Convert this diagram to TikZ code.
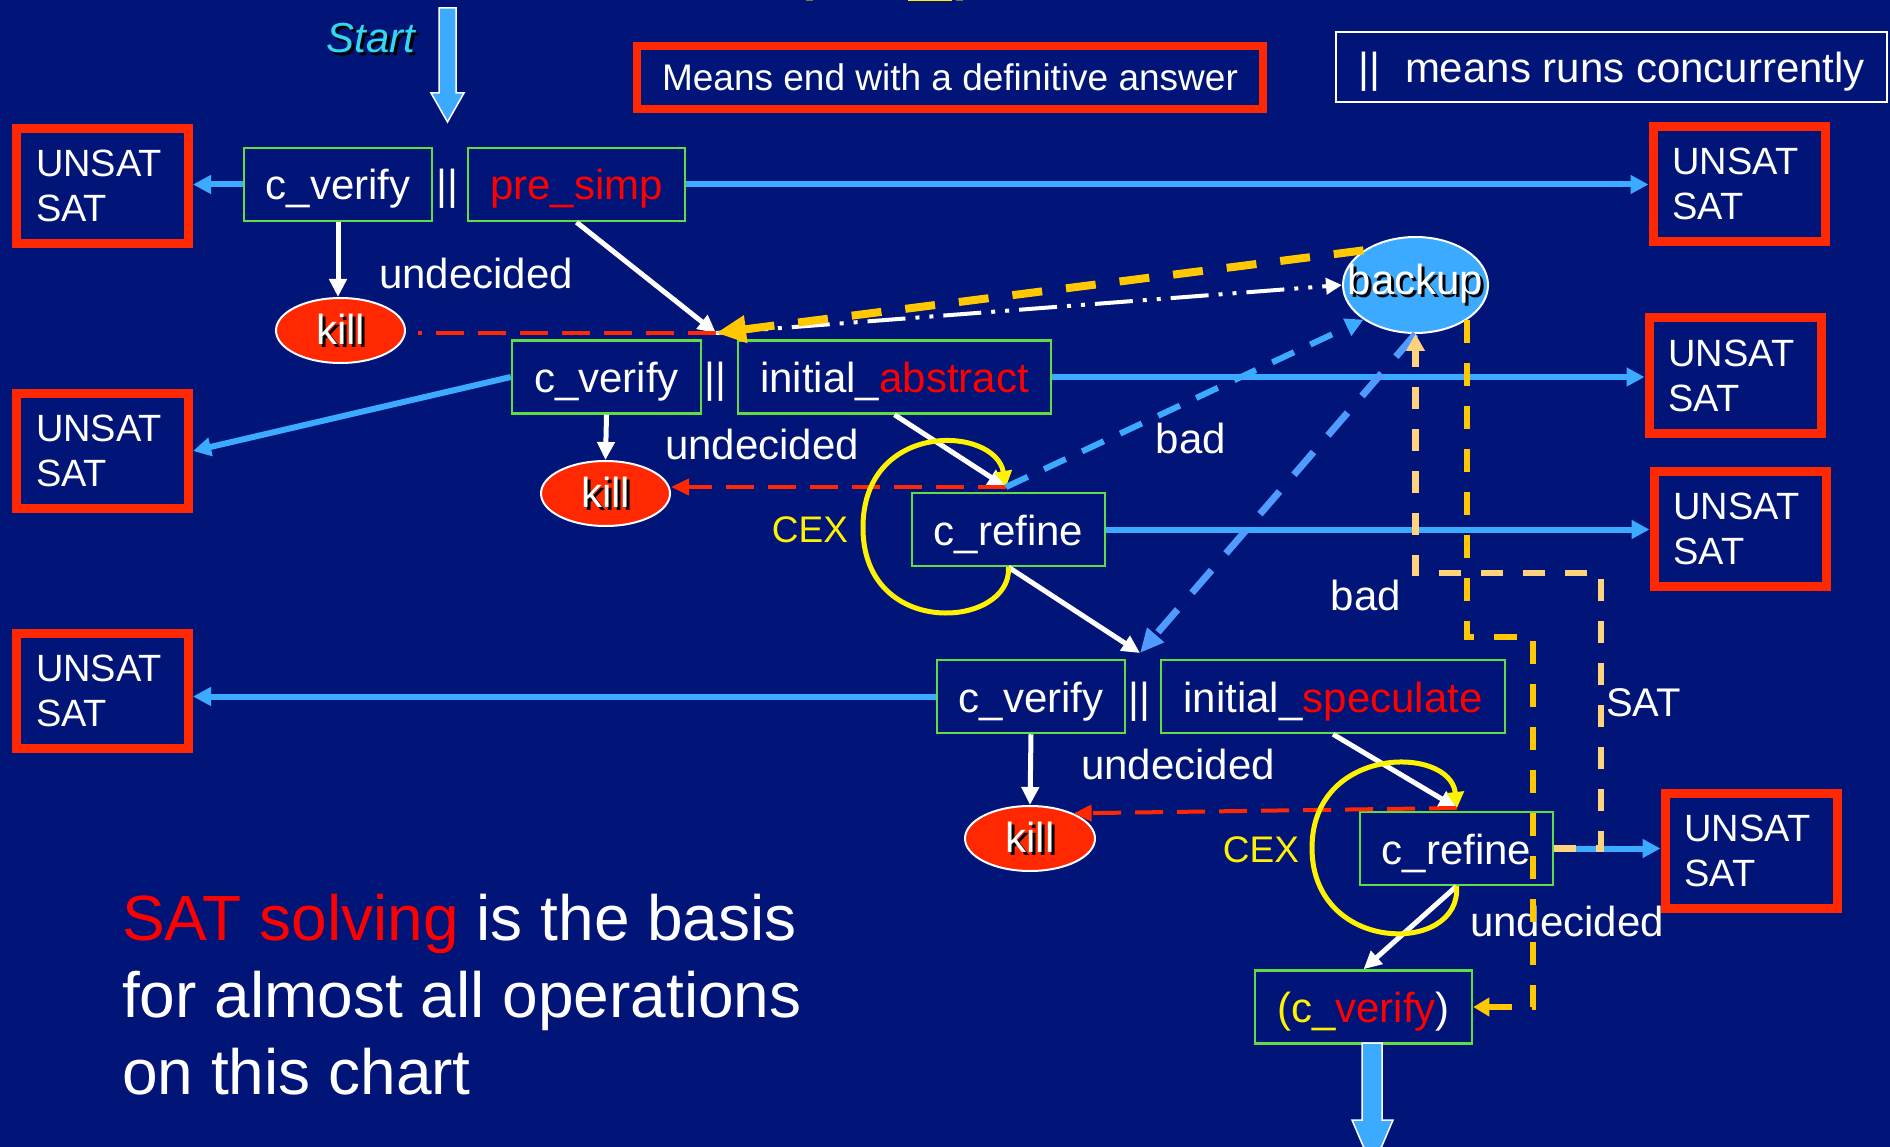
\documentclass[tikz,border=0pt]{standalone}
\usepackage{fontspec}
\setmainfont{Liberation Sans}
\usetikzlibrary{arrows.meta,shapes.geometric,calc}
\definecolor{bgblue}{RGB}{1,20,119}
\definecolor{resred}{RGB}{255,40,0}
\definecolor{boxgreen}{RGB}{95,220,70}
\definecolor{lblue}{RGB}{60,170,255}
\definecolor{pblue}{RGB}{80,155,255}
\definecolor{gold}{RGB}{255,200,0}
\definecolor{lorange}{RGB}{255,210,125}
\definecolor{cyantext}{RGB}{50,215,240}
\definecolor{olivemark}{RGB}{120,120,60}
\newcommand\fmain{\fontsize{42}{50}\selectfont}
\newcommand\fres{\fontsize{38}{45}\selectfont}
\newcommand\fsmall{\fontsize{37}{44}\selectfont}
\newcommand\fbig{\fontsize{64}{77}\selectfont}
\newcommand\shtxt[1]{\rlap{\kern3pt\raisebox{-3pt}{\color{black}#1}}#1}
\begin{document}
\begin{tikzpicture}[x=1pt,y=-1pt,
  proc/.style={draw=boxgreen,line width=2.5pt,inner sep=0pt,minimum height=73pt,text height=40pt,text depth=9pt,font=\fmain,text=white},
  res/.style={draw=resred,line width=9pt,inner xsep=0pt,inner ysep=0pt,minimum width=172pt,minimum height=115pt,text width=133pt,align=left,font=\fres,text=white},
  killnode/.style={ellipse,fill=resred,draw=white,line width=2pt,minimum width=129pt,minimum height=65pt,inner sep=0pt,font=\fmain,text=white},
  lbl/.style={inner sep=0pt,font=\fmain,text=white},
  barrow/.style={draw=lblue,line width=6pt,-{Triangle[length=18pt,width=18pt]}},
  warrow/.style={draw=white,line width=5pt,-{Triangle[length=18pt,width=17pt]}},
  rdash/.style={draw=resred,line width=4pt,dash pattern=on 28pt off 14pt},
  rtip/.style={-{Triangle[length=18pt,width=16pt]}},
  yloop/.style={draw=yellow,line width=5pt,-{Triangle[length=16pt,width=17pt]}},
  bdash/.style={draw=lblue,line width=6pt,dash pattern=on 24pt off 18pt,-{Triangle[length=18pt,width=18pt]}},
  bdashb/.style={draw=pblue,line width=7pt,dash pattern=on 30pt off 22pt,-{Triangle[length=24pt,width=21pt]}},
  wdd/.style={draw=white,line width=4pt,dash pattern=on 38pt off 10pt on 4pt off 10pt on 4pt off 10pt,-{Triangle[length=16pt,width=16pt]}},
  ydash/.style={draw=gold,line width=8pt,dash pattern=on 30pt off 24pt,-{Triangle[length=30pt,width=26pt]}},
  odash/.style={draw=lorange,line width=6.5pt,dash pattern=on 22pt off 20pt,-{Triangle[length=17pt,width=18pt]}},
  gdash/.style={draw=gold,line width=6pt,dash pattern=on 23pt off 20pt,-{Triangle[length=16pt,width=18pt]}}
]
\useasboundingbox (0,0) rectangle (1890,1147);
\clip (0,0) rectangle (1890,1147);
\fill[bgblue] (0,0) rectangle (1890,1147);
\fill[yellow] (908,0) rectangle (952,1.5);
\fill[olivemark] (806,0) rectangle (813,1.5);
\fill[olivemark] (956,0) rectangle (963,1.5);

% legend boxes
\node[draw=resred,line width=8pt,minimum width=626pt,minimum height=63pt,inner sep=0pt,font=\fsmall,text=white] (L1) at (950,77.5) {Means end with a definitive answer};
\node[draw=white,line width=2.5pt,minimum width=551pt,minimum height=70pt,inner sep=0pt,font=\fmain,text=white,text height=41pt,text depth=9pt] (L2) at (1611.5,67) {||\hspace{25pt}means runs concurrently};

% start
\node[lbl,font={\fmain\itshape},text=cyantext] (st) at (371,40) {\shtxt{Start}};
\filldraw[fill=lblue,draw=white,line width=1.5pt] (439,8) -- (456,8) -- (456,93) -- (464,93) -- (447.5,122) -- (431,93) -- (439,93) -- cycle;

% result boxes
\node[res] (R1) at (102.5,186) {UNSAT\\SAT};
\node[res] (R2) at (102.5,451) {UNSAT\\SAT};
\node[res] (R3) at (102.5,691) {UNSAT\\SAT};
\node[res] (R4) at (1739,184) {UNSAT\\SAT};
\node[res] (R5) at (1735,375.5) {UNSAT\\SAT};
\node[res] (R6) at (1740,529) {UNSAT\\SAT};
\node[res] (R7) at (1751,851) {UNSAT\\SAT};

% process boxes
\node[proc,minimum width=188pt] (cv1) at (338,184.5) {c\textunderscore verify};
\node[proc,minimum width=217pt] (ps) at (576.5,184.5) {\textcolor{red}{pre\textunderscore simp}};
\node[proc,minimum width=189pt] (cv2) at (606.5,377) {c\textunderscore verify};
\node[proc,minimum width=313pt] (ia) at (894.5,377) {initial\textunderscore\textcolor{red}{abstract}};
\node[proc,minimum width=193pt] (cr1) at (1008.5,529.5) {c\textunderscore refine};
\node[proc,minimum width=188pt] (cv3) at (1031,696.5) {c\textunderscore verify};
\node[proc,minimum width=344pt] (is) at (1333,696.5) {initial\textunderscore\textcolor{red}{speculate}};
\node[proc,minimum width=193pt] (cr2) at (1456.5,848.5) {c\textunderscore refine};
\node[proc,minimum width=217pt] (cvf) at (1363.5,1007) {\textcolor{yellow}{(c\textunderscore}\textcolor{red}{verify})};

% parallel bars
\node[lbl,text height=40pt,text depth=9pt] (p1) at (447,184.5) {||};
\node[lbl,text height=40pt,text depth=9pt] (p2) at (715,377) {||};
\node[lbl,text height=40pt,text depth=9pt] (p3) at (1139,696.5) {||};

% ellipses
\node[killnode] (k1) at (340.5,330.5) {\shtxt{kill}};
\node[killnode] (k2) at (605.5,493.5) {\shtxt{kill}};
\node[killnode,minimum width=130pt] (k3) at (1030,838.5) {\shtxt{kill}};
\node[ellipse,fill=lblue,draw=white,line width=2pt,minimum width=145pt,minimum height=96pt,inner sep=0pt,font=\fmain,text=white] (bk) at (1415.5,285) {\makebox[0pt]{\shtxt{backup}}};

% labels
\node[lbl] (u1) at (476,273.5) {undecided};
\node[lbl] (u2) at (762,444) {undecided};
\node[lbl] (u3) at (1178,764) {undecided};
\node[lbl] (u4) at (1567,921) {undecided};
\node[lbl] (b1) at (1191,438) {bad};
\node[lbl] (b2) at (1366,595) {bad};
\node[lbl,font=\fontsize{40}{48}\selectfont] (sat) at (1643.5,702.5) {SAT};
\node[lbl,font=\fsmall,text=yellow] (cex1) at (810,530) {CEX};
\node[lbl,font=\fsmall,text=yellow] (cex2) at (1261,850) {CEX};

% bottom text
\node[inner sep=0pt,font=\fbig,text=white,align=left,anchor=north west] (bt) at (122,894) {\textcolor{red}{SAT solving} is the basis\\for almost all operations\\on this chart};

% junctions
\coordinate (j1) at (716,333);
\coordinate (c1) at (1006,487);
\coordinate (j3) at (1140,653);
\coordinate (c2) at (1457,808);

% blue result arrows
\draw[barrow] (cv1.west) -- (cv1.west -| R1.east);
\draw[barrow] (ps.east) -- (ps.east -| R4.west);
\draw[barrow] (cv2.west) -- (R2.east);
\draw[barrow] (ia.east) -- (ia.east -| R5.west);
\draw[barrow] (cr1.east) -- (cr1.east -| R6.west);
\draw[barrow] (cv3.west) -- (cv3.west -| R3.east);
\draw[barrow] (cr2.east) -- (cr2.east -| R7.west);

% white arrows
\draw[warrow] (cv1.south) -- (cv1.south |- k1.north);
\draw[warrow] (ps.south) -- (j1);
\draw[warrow] (cv2.south) -- (k2.north);
\draw[warrow] (ia.south) -- (c1);
\draw[warrow] (cr1.south) -- (j3);
\draw[warrow] (cv3.south) -- (k3.north);
\draw[warrow] (is.south) -- (c2);
\draw[warrow] (cr2.south) -- (cvf.north);

% red dashed kill lines
\draw[rdash,shorten >=12pt] (j1) -- (k1.east |- j1);
\draw[rdash,rtip] (c1) -- (c1 -| k2.east);
\draw[rdash,rtip] (c2) -- (k3.30);

% CEX loops
\draw[yloop] (cr1.south) .. controls (1012,628) and (865,640) .. (863,530) .. controls (861,420) and (995,425) .. (c1);
\draw[yloop] (cr2.south) .. controls (1462,955) and (1312,955) .. (1312,848) .. controls (1312,745) and (1450,745) .. (c2);

% blue dashed to/from backup
\draw[bdash] (c1) -- (bk.south west);
\draw[bdashb] (bk.south) -- (j3);

% backup links
\draw[wdd] (j1) -- (bk.west);
\draw[ydash] (bk.north west) -- (j1);
\draw[odash] (cr2.east) -| (1601,573) -| (bk.south);
\draw[gdash] (bk.south east) |- (1533,637) |- (cvf.east);

% exit arrow
\filldraw[fill=lblue,draw=white,line width=1.5pt] (1362,1043) -- (1382,1043) -- (1382,1120) -- (1393,1120) -- (1372.5,1168) -- (1352,1120) -- (1362,1120) -- cycle;
\end{tikzpicture}
\end{document}
